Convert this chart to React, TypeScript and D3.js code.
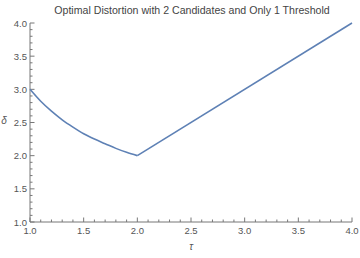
import React from "react";
import * as d3 from "d3";

// values
const tauValues = [1.0, 1.1, 1.2, 1.3, 1.4, 1.5, 1.6, 1.7, 1.8, 1.9, 2.0, 4.0];
const deltaValues = [3.0, 2.82, 2.67, 2.54, 2.43, 2.33, 2.25, 2.18, 2.11, 2.05, 2.0, 4.0];
const majorTicks = [1.0, 1.5, 2.0, 2.5, 3.0, 3.5, 4.0];
const minorTicks = d3.range(10, 41).map((d) => d / 10);

const W = 360;
const H = 258;
const axisColor = "#777";
const textColor = "#555";
const font = "'Liberation Sans', Arial, sans-serif";

export default function App() {
  const x = d3.scaleLinear().domain([1, 4]).range([30, 352]);
  const y = d3.scaleLinear().domain([1, 4]).range([222, 23]);

  const pts: [number, number][] = tauValues.map((t, i) => [t, deltaValues[i]]);
  const kink = tauValues.indexOf(2.0);

  const curve = d3
    .line<[number, number]>()
    .x((d) => x(d[0]))
    .y((d) => y(d[1]))
    .curve(d3.curveMonotoneX);
  const straight = d3
    .line<[number, number]>()
    .x((d) => x(d[0]))
    .y((d) => y(d[1]));

  const isMajor = (t: number) => majorTicks.some((m) => Math.abs(m - t) < 1e-6);

  return (
    <svg
      width={W}
      height={H}
      style={{ position: "absolute", left: 0, top: 0, background: "#fff" }}
      fontFamily={font}
    >
      <text x={192} y={14} textAnchor="middle" fontSize={10.6} fill="#444">
        Optimal Distortion with 2 Candidates and Only 1 Threshold
      </text>

      {/* axes */}
      <line x1={x(1)} x2={x(4)} y1={y(1)} y2={y(1)} stroke={axisColor} strokeWidth={1} />
      <line x1={x(1)} x2={x(1)} y1={y(1)} y2={y(4)} stroke={axisColor} strokeWidth={1} />

      {minorTicks.map((t) => {
        const len = isMajor(t) ? 4.5 : 2.5;
        return (
          <g key={"t" + t}>
            <line x1={x(t)} x2={x(t)} y1={y(1)} y2={y(1) - len} stroke={axisColor} />
            <line x1={x(1)} x2={x(1) + len} y1={y(t)} y2={y(t)} stroke={axisColor} />
          </g>
        );
      })}

      {majorTicks.map((t) => (
        <g key={"l" + t} fontSize={9.5} fill={textColor}>
          <text x={x(t)} y={y(1) + 12} textAnchor="middle">
            {t.toFixed(1)}
          </text>
          <text x={x(1) - 3} y={y(t) + 3.5} textAnchor="end">
            {t.toFixed(1)}
          </text>
        </g>
      ))}

      <text x={191} y={250} textAnchor="middle" fontSize={10} fill={textColor} fontStyle="italic">
        τ
      </text>
      <text x={4} y={124} textAnchor="middle" fontSize={10} fill={textColor} fontStyle="italic">
        δ
      </text>

      <path
        d={curve(pts.slice(0, kink + 1)) ?? ""}
        fill="none"
        stroke="#5E81B5"
        strokeWidth={1.6}
        strokeLinejoin="round"
      />
      <path
        d={straight(pts.slice(kink)) ?? ""}
        fill="none"
        stroke="#5E81B5"
        strokeWidth={1.6}
        strokeLinejoin="round"
      />
    </svg>
  );
}
